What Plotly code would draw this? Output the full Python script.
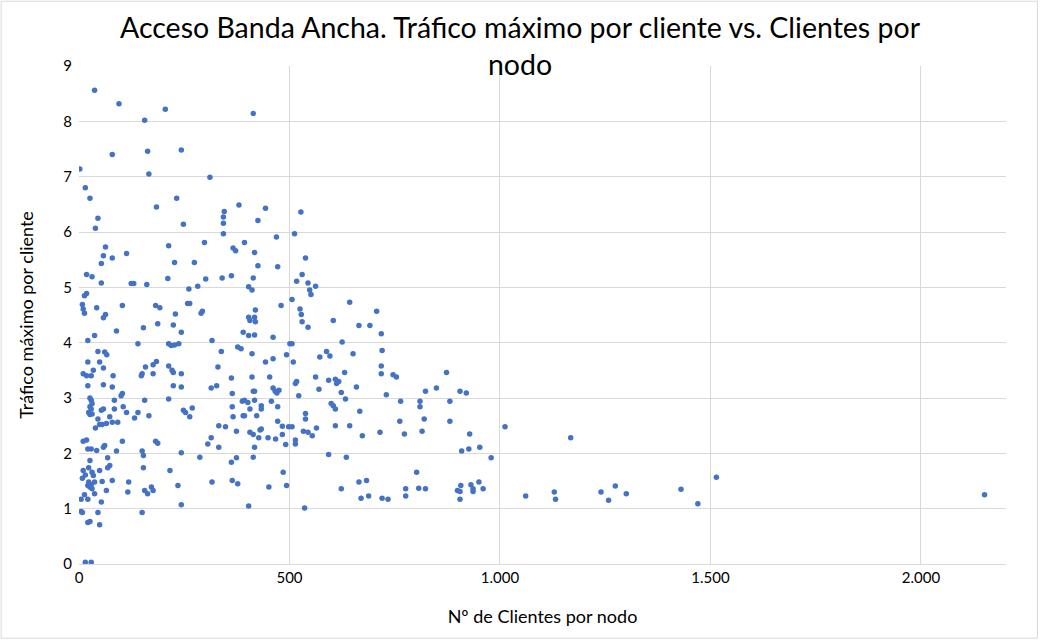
import plotly.graph_objects as go

# Nº de Clientes por nodo
clientes = [
    37, 95, 205, 156, 79, 163, 243, 2, 166, 311, 15, 26, 232, 184, 345, 343, 343, 45, 380, 248,
    414, 443, 425, 527,
    39, 343, 63, 58, 79, 53, 113, 213, 227, 274, 298, 366, 372, 18, 31, 53, 124, 130, 161, 211,
    301, 340, 362, 261, 282, 18, 13, 8, 10, 13, 42, 103, 63, 58, 182, 192, 229, 258, 263, 293,
    290, 89, 153, 187, 224, 243, 37, 21, 140, 213, 219, 227, 237, 316, 338, 377, 45, 61, 66, 21,
    49, 10, 18, 29, 34, 58, 81, 21, 58, 79, 103, 150, 148, 158, 176, 184, 176, 213, 221, 224,
    243, 224, 243, 330, 314, 327, 362, 364,
    469, 512, 393, 417, 425, 472, 538, 414, 530, 517, 544, 562, 403, 411, 548, 551, 506, 480,
    419, 403, 406, 417, 419, 525, 528, 530, 544, 604, 643, 707, 665, 691, 718, 390, 403, 417,
    461, 501, 506, 625, 385, 411, 443, 461, 493, 509, 588, 596, 572, 651, 720, 718, 718, 746,
    754, 631, 411, 453, 562, 593, 609, 617, 612, 659, 570, 414, 417, 461, 466, 470, 475, 514,
    517, 623, 730,
    522, 764, 364, 388, 393, 401, 417, 406, 433, 433, 457, 472, 366, 390, 393, 422, 374, 406,
    414, 427, 430, 433, 449, 467, 472, 483, 483, 498, 506, 491, 514, 514, 533, 544, 554, 564,
    538, 538, 599, 604, 609, 633, 667, 609, 643, 673, 715, 762, 773, 417, 414, 374, 362, 485,
    493, 451, 364, 377, 403, 536, 593, 635, 623, 665, 683, 670, 688, 720, 734, 776, 776,
    873, 823, 849, 905, 920, 810, 810, 881, 820, 881, 815, 928, 1012, 1168, 909, 926, 952, 979,
    802, 807, 823, 899, 905, 907, 905, 931, 936, 936, 950, 960, 1061, 1129, 1132,
    1240, 1258, 1274, 1300, 1430, 1470, 1514, 2151,
    26, 29, 31, 26, 29, 23, 26, 31, 53, 58, 84, 84, 100, 105, 156, 140, 132, 166, 213, 45,
    73, 39, 49, 55, 65, 79, 92, 10, 18, 58, 61, 103, 21, 29, 42, 89, 150, 153, 182, 187,
    243, 287, 306, 314, 332, 26, 68, 73, 68, 23, 10, 15, 31, 34, 8, 23, 21, 26, 31, 29,
    37, 37, 13, 21, 5, 49, 55, 65, 79, 118, 116, 153, 156, 163, 172, 176, 216, 235, 243, 316,
    53, 5, 8, 45, 150, 21, 26, 49, 15, 29, 332, 348, 269, 263, 248, 253, 113,
]

# Tráfico máximo por cliente
trafico = [
    8.56, 8.32, 8.22, 8.02, 7.40, 7.46, 7.48, 7.14, 7.05, 6.99, 6.80, 6.61, 6.61, 6.45, 6.37, 6.27, 6.16, 6.25, 6.49, 6.14,
    8.14, 6.43, 6.21, 6.36,
    6.07, 5.97, 5.73, 5.57, 5.53, 5.43, 5.61, 5.75, 5.45, 5.45, 5.81, 5.71, 5.66, 5.23, 5.19, 5.08, 5.07, 5.07, 5.05, 5.16,
    5.15, 5.17, 5.21, 4.97, 5.02, 4.89, 4.85, 4.69, 4.61, 4.53, 4.63, 4.67, 4.51, 4.45, 4.67, 4.63, 4.52, 4.71, 4.71, 4.57,
    4.53, 4.21, 4.27, 4.34, 4.32, 4.19, 4.13, 4.04, 3.98, 3.98, 3.95, 3.96, 3.98, 4.04, 3.84, 3.92, 3.84, 3.83, 3.78, 3.65,
    3.65, 3.44, 3.40, 3.40, 3.50, 3.54, 3.40, 3.22, 3.24, 3.20, 3.08, 3.44, 3.40, 3.56, 3.60, 3.66, 3.44, 3.58, 3.50, 3.46,
    3.44, 3.22, 3.20, 3.56, 3.18, 3.22, 3.36, 3.08,
    5.91, 5.97, 5.81, 5.63, 5.39, 5.37, 5.53, 5.17, 5.23, 5.11, 5.08, 5.02, 5.01, 4.95, 4.95, 4.87, 4.78, 4.67,
    4.59, 4.46, 4.40, 4.46, 4.38, 4.61, 4.51, 4.38, 4.28, 4.40, 4.73, 4.57, 4.31, 4.31, 4.16, 4.19, 4.13, 4.14,
    4.10, 3.98, 3.98, 4.01, 3.89, 3.80, 3.65, 3.71, 3.78, 3.65, 3.84, 3.76, 3.74, 3.80, 3.86, 3.58, 3.44, 3.42,
    3.38, 3.46, 3.38, 3.38, 3.38, 3.32, 3.34, 3.30, 3.26, 3.20, 3.16, 3.12, 3.12, 3.18, 3.12, 3.09, 3.14, 3.26,
    3.30, 3.10, 3.06,
    3.04, 2.94, 2.84, 2.94, 2.96, 2.92, 2.96, 2.80, 2.86, 2.80, 2.94, 2.84, 2.66, 2.68, 2.68, 2.68, 2.40, 2.38,
    2.34, 2.28, 2.42, 2.44, 2.28, 2.26, 2.58, 2.49, 2.34, 2.48, 2.48, 2.16, 2.24, 2.17, 2.40, 2.38, 2.32, 2.46,
    2.62, 2.72, 2.90, 2.86, 2.80, 2.98, 2.76, 2.50, 2.50, 2.32, 2.38, 2.58, 2.35, 2.11, 1.93, 1.92, 1.84, 1.66,
    1.42, 1.39, 1.51, 1.45, 1.05, 1.01, 1.98, 1.93, 1.36, 1.48, 1.51, 1.19, 1.23, 1.19, 1.17, 1.36, 1.23,
    3.46, 3.12, 3.18, 3.12, 3.09, 2.94, 2.84, 2.94, 2.62, 2.58, 2.40, 2.35, 2.48, 2.28, 2.04, 2.08, 2.11, 1.92,
    1.66, 1.37, 1.36, 1.33, 1.31, 1.42, 1.17, 1.43, 1.36, 1.31, 1.48, 1.36, 1.23, 1.30, 1.17,
    1.30, 1.15, 1.41, 1.27, 1.35, 1.09, 1.57, 1.25,
    3.00, 2.96, 2.90, 2.84, 2.80, 2.74, 2.70, 2.71, 2.78, 2.80, 2.96, 2.80, 3.04, 2.84, 2.96, 2.74, 2.64, 2.68, 2.98, 2.62,
    2.66, 2.46, 2.52, 2.52, 2.54, 2.56, 2.56, 2.22, 2.24, 2.11, 2.14, 2.22, 2.08, 2.08, 2.05, 2.04, 2.04, 1.96, 2.22, 2.18,
    2.01, 1.93, 2.17, 2.28, 2.11, 1.87, 1.92, 1.78, 1.74, 1.74, 1.69, 1.61, 1.66, 1.60, 1.55, 1.48, 1.42, 1.39, 1.36, 1.43,
    1.48, 1.27, 1.25, 1.17, 1.17, 1.69, 1.49, 1.33, 1.51, 1.48, 1.30, 1.74, 1.33, 1.27, 1.39, 1.33, 1.69, 1.42, 1.07, 1.48,
    1.12, 0.95, 0.93, 0.93, 0.93, 0.75, 0.77, 0.71, 0.03, 0.03, 2.50, 2.48, 2.82, 2.66, 2.78, 2.74, 2.74,
]

titulo = "Acceso Banda Ancha. Tráfico máximo por cliente vs. Clientes por<br>nodo"
titulo_x = "Nº de Clientes por nodo"
titulo_y = "Tráfico máximo por cliente"

FONT = "Lato, 'Open Sans', sans-serif"
GRID = "#D9D9D9"

fig = go.Figure(
    go.Scatter(
        x=clientes,
        y=trafico,
        mode="markers",
        marker=dict(color="#4472C4", size=5.5, line=dict(width=0)),
        showlegend=False,
    )
)

fig.update_layout(
    width=1040,
    height=640,
    paper_bgcolor="white",
    plot_bgcolor="white",
    separators=",.",
    margin=dict(l=79, r=34, t=66, b=76),
    font=dict(family=FONT, color="#000000"),
    title=dict(
        text=titulo,
        x=0.5,
        xanchor="center",
        xref="container",
        y=0.94,
        yanchor="top",
        font=dict(family=FONT, size=28.5, color="#000000"),
    ),
    shapes=[
        dict(
            type="rect",
            xref="paper",
            yref="paper",
            x0=-0.084,
            x1=1.034,
            y0=-0.149,
            y1=1.13,
            line=dict(color="#D9D9D9", width=1),
            layer="below",
        )
    ],
)

fig.update_xaxes(
    range=[0, 2202],
    dtick=500,
    tick0=0,
    tickformat=",d",
    showgrid=True,
    gridcolor=GRID,
    gridwidth=1,
    zeroline=False,
    showline=True,
    linecolor=GRID,
    linewidth=1,
    ticks="",
    tickfont=dict(family=FONT, size=15, color="#000000"),
    title=dict(text=titulo_x, font=dict(family=FONT, size=18, color="#000000"), standoff=25),
)

fig.update_yaxes(
    range=[0, 9],
    dtick=1,
    tick0=0,
    showgrid=True,
    gridcolor=GRID,
    gridwidth=1,
    zeroline=False,
    showline=False,
    ticks="",
    ticklabelstandoff=6,
    tickfont=dict(family=FONT, size=15, color="#000000"),
    title=dict(text=titulo_y, font=dict(family=FONT, size=18, color="#000000"), standoff=24),
)

fig.write_html("out.html")
